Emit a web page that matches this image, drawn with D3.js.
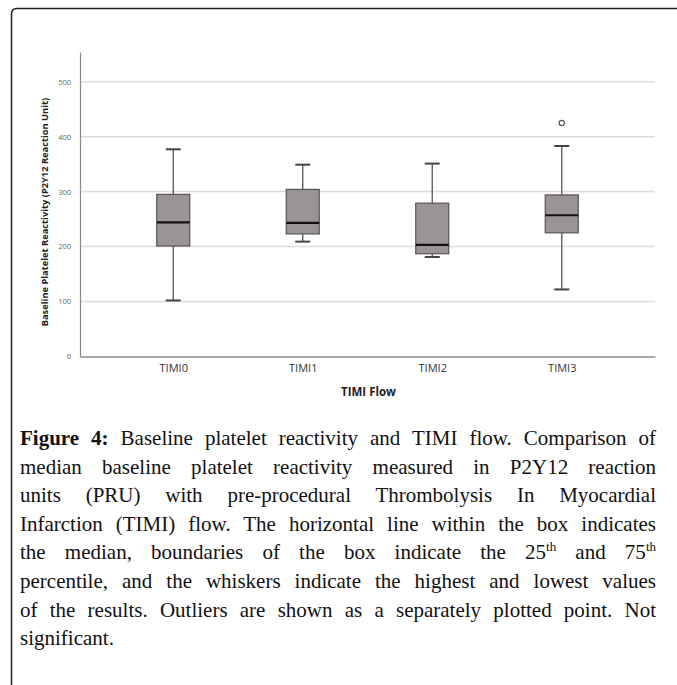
<!DOCTYPE html>
<html>
<head>
<meta charset="utf-8">
<script src="https://cdn.jsdelivr.net/npm/d3@7"></script>
<style>
body { margin:0; background:#fff; }
#wrap { position:relative; width:677px; height:685px; overflow:hidden; }
#caption { position:absolute; left:20px; top:424px; width:636px;
  font-family:"Liberation Serif", serif; font-size:21px; color:#111; }
#caption .ln { height:28.6px; line-height:28.6px; white-space:nowrap; text-align:justify; text-align-last:justify; }
#caption .ln.last { text-align-last:left; }
#caption sup { font-size:13px; line-height:0; vertical-align:8px; }
</style>
</head>
<body>
<div id="wrap">
<svg id="svg" width="677" height="685"></svg>
<div id="caption"></div>
</div>
<script>
// chart values
var groups = ["TIMI0","TIMI1","TIMI2","TIMI3"];
var whiskLo = [102, 209, 181, 122];
var q1      = [201, 223, 187, 225];
var median  = [244, 243, 203, 257];
var q3      = [295, 304, 279, 294];
var whiskHi = [377, 349, 351, 383];
var outliers = [{g:"TIMI3", v:425}];
var yTicks = [0,100,200,300,400,500];

var captionLines = [
  "<b>Figure 4:</b> Baseline platelet reactivity and TIMI flow. Comparison of",
  "median baseline platelet reactivity measured in P2Y12 reaction",
  "units (PRU) with pre-procedural Thrombolysis In Myocardial",
  "Infarction (TIMI) flow. The horizontal line within the box indicates",
  "the median, boundaries of the box indicate the 25<sup>th</sup> and 75<sup>th</sup>",
  "percentile, and the whiskers indicate the highest and lowest values",
  "of the results. Outliers are shown as a separately plotted point. Not",
  "significant."
];

var svg = d3.select("#svg");

// frame round the figure
svg.append("path")
  .attr("d","M11.5,690 L11.5,14 Q11.5,8.5 17,8.5 L690,8.5")
  .attr("fill","none").attr("stroke","#222").attr("stroke-width",1.5);

var pLeft = 80, pRight = 655, pTop = 52, pBottom = 356.5;

var x = d3.scalePoint().domain(groups).range([pLeft,pRight]).padding(0.72);
var y = d3.scaleLinear().domain([0,554]).range([pBottom,pTop]);

// gridlines
svg.append("g").selectAll("line").data(yTicks.filter(d => d>0)).enter()
  .append("line")
  .attr("x1",pLeft).attr("x2",pRight)
  .attr("y1",d => y(d)).attr("y2",d => y(d))
  .attr("stroke","#dcdcdc").attr("stroke-width",1.5);

// y axis
var yAxis = svg.append("g").attr("transform","translate("+pLeft+",0)")
  .call(d3.axisLeft(y).tickValues(yTicks).tickSize(0).tickPadding(9));
yAxis.select(".domain").attr("stroke","#8a8a8a").attr("stroke-width",1.2);
yAxis.selectAll("text").attr("fill","#666").style("font-family","'Open Sans', sans-serif").style("font-size","7.5px");

// x axis
var xAxis = svg.append("g").attr("transform","translate(0,"+pBottom+")")
  .call(d3.axisBottom(x).tickSize(0).tickPadding(8));
xAxis.select(".domain").attr("stroke","#8a8a8a").attr("stroke-width",1.5);
xAxis.selectAll("text").attr("fill","#333").style("font-family","'Open Sans', sans-serif").style("font-size","11px");

svg.append("text").attr("x",(pLeft+pRight)/2 + 1).attr("y",396)
  .attr("text-anchor","middle").attr("fill","#222")
  .style("font-family","'Open Sans', sans-serif").style("font-size","11.5px").style("font-weight","bold")
  .text("TIMI Flow");

svg.append("text").attr("transform","translate(48,212) rotate(-90)")
  .attr("text-anchor","middle").attr("fill","#222")
  .style("font-family","'Open Sans', sans-serif").style("font-size","9.3px").style("font-weight","bold")
  .text("Baseline Platelet Reactivity (P2Y12 Reaction Unit)");

// boxes
var bw = 33, cw = 15;
var bx = svg.append("g").selectAll("g").data(groups).enter().append("g");

bx.append("line")
  .attr("x1",d => x(d)).attr("x2",d => x(d))
  .attr("y1",(d,i) => y(whiskHi[i])).attr("y2",(d,i) => y(whiskLo[i]))
  .attr("stroke","#555").attr("stroke-width",1.3);
bx.append("line")
  .attr("x1",d => x(d)-cw/2).attr("x2",d => x(d)+cw/2)
  .attr("y1",(d,i) => y(whiskHi[i])).attr("y2",(d,i) => y(whiskHi[i]))
  .attr("stroke","#444").attr("stroke-width",2);
bx.append("line")
  .attr("x1",d => x(d)-cw/2).attr("x2",d => x(d)+cw/2)
  .attr("y1",(d,i) => y(whiskLo[i])).attr("y2",(d,i) => y(whiskLo[i]))
  .attr("stroke","#444").attr("stroke-width",2);
bx.append("rect")
  .attr("x",d => x(d)-bw/2).attr("width",bw)
  .attr("y",(d,i) => y(q3[i])).attr("height",(d,i) => y(q1[i])-y(q3[i]))
  .attr("fill","#9a9496").attr("stroke","#555").attr("stroke-width",1.2);
bx.append("line")
  .attr("x1",d => x(d)-bw/2).attr("x2",d => x(d)+bw/2)
  .attr("y1",(d,i) => y(median[i])).attr("y2",(d,i) => y(median[i]))
  .attr("stroke","#111").attr("stroke-width",2.2);

svg.append("g").selectAll("circle").data(outliers).enter()
  .append("circle")
  .attr("cx",d => x(d.g)).attr("cy",d => y(d.v)).attr("r",2.6)
  .attr("fill","#fff").attr("stroke","#555").attr("stroke-width",1.2);

// caption
d3.select("#caption").selectAll("div").data(captionLines).enter()
  .append("div")
  .attr("class",(d,i) => i==captionLines.length-1 ? "ln last" : "ln")
  .html(d => d);
</script>
</body>
</html>
